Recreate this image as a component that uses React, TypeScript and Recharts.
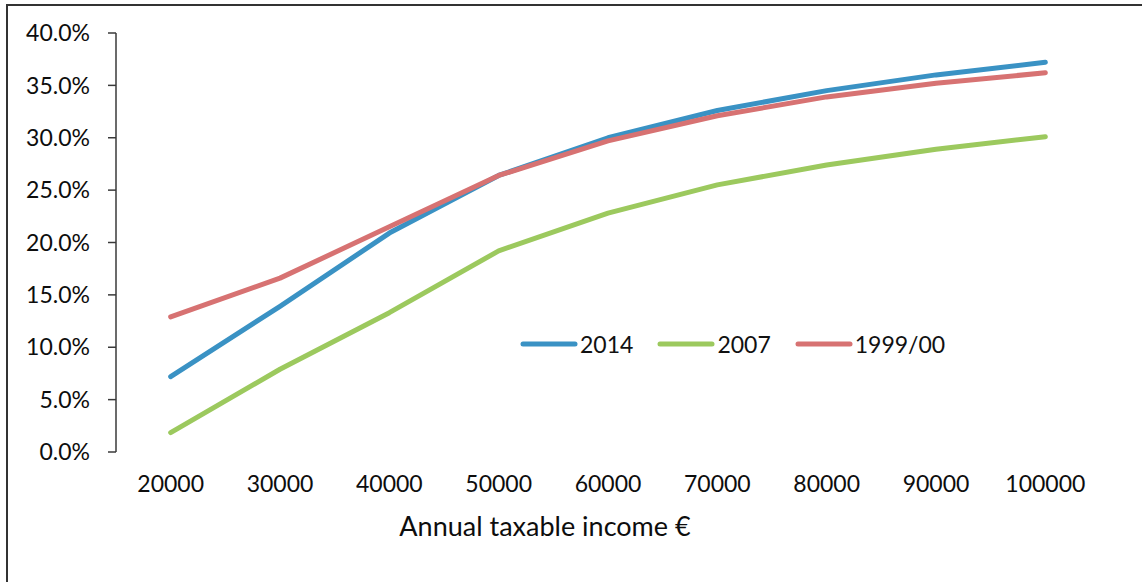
import React from 'react';
import { LineChart, Line, XAxis, YAxis, Legend } from 'recharts';

const incomes = [20000, 30000, 40000, 50000, 60000, 70000, 80000, 90000, 100000];
const rate2014 = [7.2, 13.9, 20.9, 26.4, 30.0, 32.6, 34.5, 36.0, 37.2];
const rate2007 = [1.85, 7.9, 13.3, 19.2, 22.8, 25.5, 27.4, 28.9, 30.1];
const rate1999 = [12.9, 16.6, 21.5, 26.4, 29.7, 32.1, 33.9, 35.2, 36.2];
const yTicks = [0, 5, 10, 15, 20, 25, 30, 35, 40];
const boundaryTicks = [15000, 25000, 35000, 45000, 55000, 65000, 75000, 85000, 95000, 105000];
const seriesKeys = ['s2014', 's2007', 's1999'];
const seriesNames = ['2014', '2007', '1999/00'];
const seriesColors = ['#3a92c4', '#9cc95e', '#d77272'];

const data = incomes.map((inc, i) => ({
  income: inc,
  s2014: rate2014[i],
  s2007: rate2007[i],
  s1999: rate1999[i],
}));

const FONT = 'Lato, "Open Sans", sans-serif';
const AXIS = '#3a3a3a';

const LegendContent = () => (
  <div style={{ display: 'flex', alignItems: 'center', fontFamily: FONT, fontSize: 23, color: '#111' }}>
    {seriesNames.map((n, i) => (
      <div key={n} style={{ display: 'flex', alignItems: 'center', marginRight: i < 2 ? 24 : 0 }}>
        <svg width={58} height={10} style={{ display: 'block' }}>
          <line x1={3} y1={5} x2={55} y2={5} stroke={seriesColors[i]} strokeWidth={5} strokeLinecap="round" />
        </svg>
        <span style={{ marginLeft: 2, lineHeight: '24px' }}>{n}</span>
      </div>
    ))}
  </div>
);

export default function App() {
  return (
    <div style={{ position: 'absolute', left: 0, top: 0, width: 1142, height: 582, background: '#fff', overflow: 'hidden' }}>
      <div
        style={{
          position: 'absolute',
          left: 6,
          top: 4,
          width: 1200,
          height: 700,
          borderLeft: '2px solid #333',
          borderTop: '2px solid #333',
        }}
      />
      <div style={{ position: 'absolute', left: 0, top: 0 }}>
        <LineChart
          width={1142}
          height={582}
          data={data}
          margin={{ top: 33, right: 42, left: 0, bottom: 60 }}
        >
          <XAxis
            xAxisId="marks"
            dataKey="income"
            type="number"
            domain={[15000, 105000]}
            ticks={boundaryTicks}
            height={0}
            tickSize={8}
            tick={() => <g />}
            axisLine={{ stroke: AXIS, strokeWidth: 1.5 }}
            tickLine={{ stroke: AXIS, strokeWidth: 1.5 }}
          />
          <XAxis
            dataKey="income"
            type="number"
            domain={[15000, 105000]}
            ticks={incomes}
            interval={0}
            height={70}
            tickSize={0}
            tickMargin={24}
            axisLine={false}
            tickLine={false}
            tick={{ fill: '#0d0d0d', fontSize: 23, fontFamily: FONT }}
          />
          <YAxis
            domain={[0, 40]}
            ticks={yTicks}
            width={116}
            tickSize={8}
            tickMargin={18}
            tickFormatter={(v: number) => v.toFixed(1) + '%'}
            axisLine={{ stroke: AXIS, strokeWidth: 1.5 }}
            tickLine={{ stroke: AXIS, strokeWidth: 1.5 }}
            tick={{ fill: '#0d0d0d', fontSize: 23, fontFamily: FONT }}
          />
          <Legend
            layout="horizontal"
            verticalAlign="middle"
            align="center"
            wrapperStyle={{ left: 520, top: 332, width: 'auto' }}
            content={() => <LegendContent />}
          />
          {seriesKeys.map((k, i) => (
            <Line
              key={k}
              dataKey={k}
              name={seriesNames[i]}
              type="linear"
              stroke={seriesColors[i]}
              strokeWidth={5}
              strokeLinecap="round"
              strokeLinejoin="round"
              dot={false}
              activeDot={false}
              isAnimationActive={false}
            />
          ))}
        </LineChart>
      </div>
      <div
        style={{
          position: 'absolute',
          left: 545,
          top: 509,
          transform: 'translateX(-50%)',
          whiteSpace: 'nowrap',
          fontFamily: FONT,
          fontSize: 27,
          color: '#0d0d0d',
        }}
      >
        Annual taxable income €
      </div>
    </div>
  );
}
